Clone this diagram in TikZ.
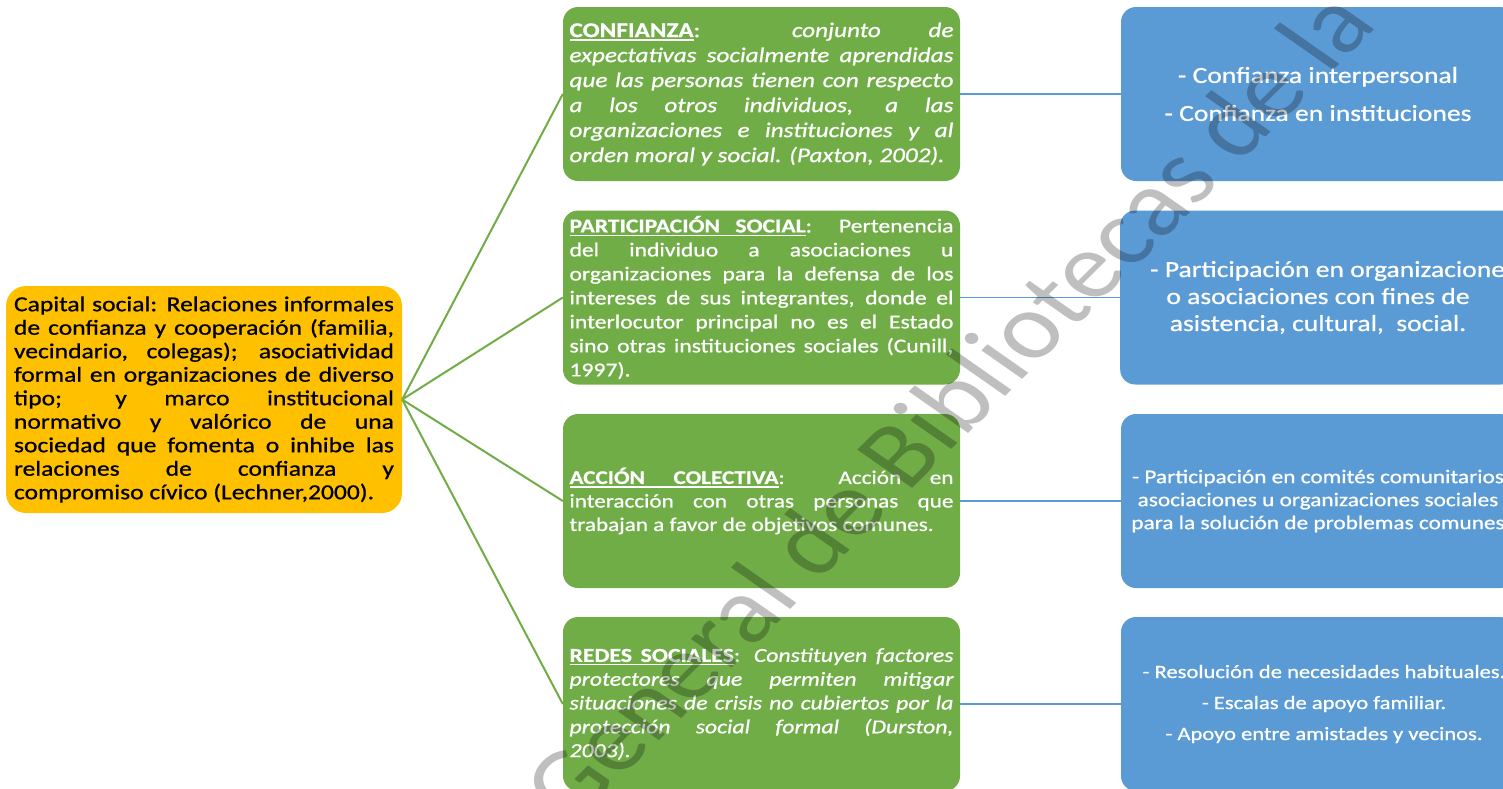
\documentclass[tikz,border=0pt]{standalone}
\usepackage{fontspec}
\setmainfont{Carlito}[FakeStretch=1.2,FakeBold=0.8]
\newfontfamily\wmfont{Carlito}
\definecolor{cyel}{HTML}{FFC000}
\definecolor{cgrn}{HTML}{70AD47}
\definecolor{cblu}{HTML}{5B9BD5}
\newcommand{\tightpar}{\tolerance=10000\hyphenpenalty=10000\exhyphenpenalty=10000}
\newcommand{\ulword}[1]{\setbox0\hbox{\textbf{#1}}\rlap{\vrule height -2.2pt depth 3.6pt width\wd0}\box0}
\newcommand{\ulsp}{\leaders\vrule height -2.2pt depth 3.6pt\hskip\fontdimen2\font plus\fontdimen3\font minus\fontdimen4\font\relax}
\begin{document}
\begin{tikzpicture}[x=1pt,y=-1pt,
  yel/.style={fill=cyel, rounded corners=20pt, text width=380pt, inner xsep=8pt, inner ysep=0pt,
    minimum height=227pt, align=justify, text=black},
  grn/.style={fill=cgrn, rounded corners=15pt, text width=384pt, inner xsep=6.5pt, inner ysep=0pt,
    minimum height=174pt, align=justify, text=white},
  blu/.style={fill=cblu, rounded corners=15pt, minimum width=394pt, minimum height=174pt,
    inner sep=0pt, align=center, text=white},
  gline/.style={draw=cgrn, line width=2pt},
  bline/.style={draw=cblu, line width=1.5pt},
  wm/.style={transform shape, rotate=50, anchor=center, text=black, opacity=0.25, inner sep=0pt}
]
\useasboundingbox (0,0) rectangle (1503,788);

% central node
\node[yel, font=\fontsize{21.3}{23.5}\selectfont\tightpar] (cap) at (204,399.5) {Capital social: Relaciones informales\linebreak de confianza y cooperación (familia,\linebreak vecindario, colegas); asociatividad\linebreak formal en organizaciones de diverso\linebreak tipo; y marco institucional\linebreak normativo y valórico de una\linebreak sociedad que fomenta o inhibe las\linebreak relaciones de confianza y\linebreak compromiso cívico (Lechner,2000).};

% green nodes
\node[grn, font=\fontsize{21}{25}\selectfont\tightpar] (g1) at (761.5,94) {\ulword{CONFIANZA}: \textit{conjunto de\linebreak expectativas socialmente aprendidas\linebreak que las personas tienen con respecto\linebreak a los otros individuos, a las\linebreak organizaciones e instituciones y al\linebreak orden moral y social. (Paxton, 2002).}};

\node[grn, font=\fontsize{19.7}{24}\selectfont\tightpar] (g2) at (761.5,297.5) {\ulword{PARTICIPACIÓN}\ulsp\ulword{SOCIAL}: Pertenencia\linebreak del individuo a asociaciones u\linebreak organizaciones para la defensa de los\linebreak intereses de sus integrantes, donde el\linebreak interlocutor principal no es el Estado\linebreak sino otras instituciones sociales (Cunill,\linebreak 1997).};

\node[grn, font=\fontsize{19.3}{23.5}\selectfont\tightpar] (g3) at (761.5,501) {\ulword{ACCIÓN}\ulsp\ulword{COLECTIVA}: Acción en\linebreak interacción con otras personas que\linebreak trabajan a favor de objetivos comunes.};

\node[grn, font=\fontsize{19.8}{23.8}\selectfont\tightpar] (g4) at (761.5,704) {\ulword{REDES}\ulsp\ulword{SOCIALES}: \textit{Constituyen factores\linebreak protectores que permiten mitigar\linebreak situaciones de crisis no cubiertos por la\linebreak protección social formal (Durston,\linebreak 2003).}};

% blue nodes
\node[blu, font=\fontsize{23}{38}\selectfont] (b1) at (1318,94) {- Confianza interpersonal\\- Confianza en instituciones};
\node[blu, font=\fontsize{23}{27}\selectfont] (b2) at (1318,297.5) {\hspace*{30pt}- Participación en organizaciones\\o asociaciones con fines de\\asistencia, cultural,~ social.};
\node[blu, font=\fontsize{19.4}{23}\selectfont] (b3) at (1318,501) {- Participación en comités comunitarios\\asociaciones u organizaciones sociales\\para la solución de problemas comunes};
\node[blu, font=\fontsize{18.8}{31}\selectfont] (b4) at (1318,704) {\hspace*{12pt}- Resolución de necesidades habituales.\\\hspace*{12pt}- Escalas de apoyo familiar.\\\hspace*{12pt}- Apoyo entre amistades y vecinos.};

% connectors
\foreach \g in {g1,g2,g3,g4}{\draw[gline] (cap.east) -- (\g.west);}
\draw[bline] (g1.east) -- (b1.west);
\draw[bline] (g2.east) -- (b2.west);
\draw[bline] (g3.east) -- (b3.west);
\draw[bline] (g4.east) -- (b4.west);

% watermark
\begin{scope}[xscale=1.2]
\node[wm, font=\wmfont\fontsize{93}{93}\selectfont] (mark) at (789,405) {General de Bibliotecas de la};
\end{scope}
\end{tikzpicture}
\end{document}
